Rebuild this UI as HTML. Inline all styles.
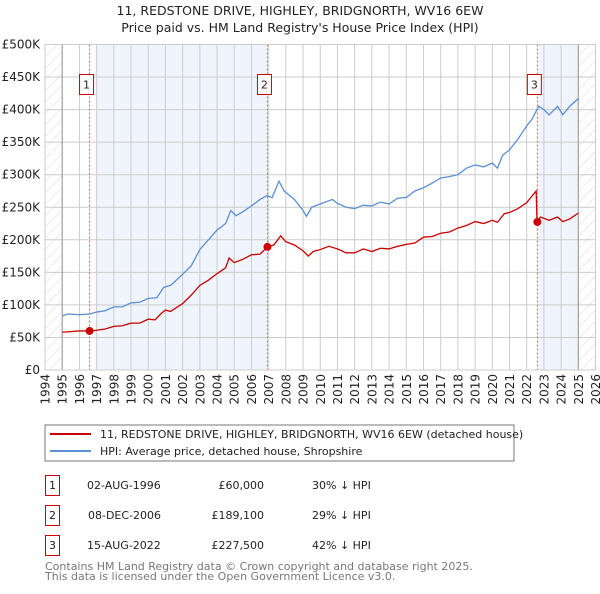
<!DOCTYPE html>
<html><head><meta charset="utf-8"><style>
body{margin:0;background:#fff;font-family:"DejaVu Sans","Liberation Sans",sans-serif;}
svg text{font-family:"DejaVu Sans","Liberation Sans",sans-serif;}
</style></head><body>
<svg id="c" width="600" height="590" xmlns="http://www.w3.org/2000/svg">
<defs><pattern id="hatch" width="8" height="8" patternUnits="userSpaceOnUse" patternTransform="rotate(45)"><line x1="0" y1="0" x2="0" y2="8" stroke="#d8d8d8" stroke-width="1"/></pattern></defs>
<text x="300" y="15" text-anchor="middle" font-size="12.5" fill="#222">11, REDSTONE DRIVE, HIGHLEY, BRIDGNORTH, WV16 6EW</text>
<text x="300" y="32" text-anchor="middle" font-size="12.5" fill="#222">Price paid vs. HM Land Registry's House Price Index (HPI)</text>
<g id="plot"></g>
<rect x="45" y="425" width="469" height="36" fill="#fff" stroke="#777"/>
<line x1="50" y1="434" x2="91" y2="434" stroke="#cc0000" stroke-width="2"/>
<text x="100" y="438" font-size="11" fill="#222">11, REDSTONE DRIVE, HIGHLEY, BRIDGNORTH, WV16 6EW (detached house)</text>
<line x1="50" y1="451" x2="91" y2="451" stroke="#5b8fd4" stroke-width="2"/>
<text x="100" y="455" font-size="11" fill="#222">HPI: Average price, detached house, Shropshire</text>
<g font-size="11" fill="#222">
<rect x="45.5" y="475.5" width="14" height="20" fill="none" stroke="#cc0000"/>
<text x="52.5" y="489" text-anchor="middle">1</text>
<text x="87" y="489">02-AUG-1996</text>
<text x="264" y="489" text-anchor="end">£60,000</text>
<text x="312" y="489">30% ↓ HPI</text>
<rect x="45.5" y="505.5" width="14" height="20" fill="none" stroke="#cc0000"/>
<text x="52.5" y="519" text-anchor="middle">2</text>
<text x="88" y="519">08-DEC-2006</text>
<text x="264" y="519" text-anchor="end">£189,100</text>
<text x="312" y="519">29% ↓ HPI</text>
<rect x="45.5" y="535.5" width="14" height="20" fill="none" stroke="#cc0000"/>
<text x="52.5" y="549" text-anchor="middle">3</text>
<text x="87" y="549">15-AUG-2022</text>
<text x="264" y="549" text-anchor="end">£227,500</text>
<text x="312" y="549">42% ↓ HPI</text>
</g>
<text x="45" y="570" font-size="11" fill="#777">Contains HM Land Registry data © Crown copyright and database right 2025.</text>
<text x="45" y="580" font-size="11" fill="#777">This data is licensed under the Open Government Licence v3.0.</text>
</svg>
<script>
const hpiYears=[1995.0,1995.3,1996,1996.6,1997,1997.5,1998,1998.5,1999,1999.5,2000,2000.5,2000.9,2001.3,2002,2002.5,2003,2003.5,2004,2004.5,2004.8,2005.1,2005.5,2006,2006.5,2006.9,2007.2,2007.6,2007.9,2008.5,2009,2009.2,2009.5,2010,2010.7,2011,2011.5,2012,2012.5,2013,2013.5,2014,2014.5,2015,2015.5,2016,2016.5,2017,2017.5,2018,2018.5,2019,2019.5,2020,2020.3,2020.6,2021,2021.5,2022,2022.3,2022.7,2023,2023.3,2023.8,2024.1,2024.5,2025];
const hpiValues=[83,86,85,86,89,91,97,97,103,104,110,111,127,130,147,160,185,200,215,225,245,237,243,252,262,268,265,290,275,262,245,236,250,255,262,256,250,248,253,252,258,255,264,265,275,280,287,295,297,300,310,315,312,318,310,330,338,355,375,385,405,400,392,405,392,405,417];
const priceYears=[1995,1996,1996.59,1997,1997.5,1998,1998.5,1999,1999.5,2000,2000.4,2000.8,2001,2001.3,2002,2002.5,2003,2003.5,2004,2004.5,2004.7,2005,2005.5,2006,2006.5,2006.93,2007.3,2007.7,2008,2008.5,2009,2009.3,2009.6,2010,2010.5,2011,2011.5,2012,2012.5,2013,2013.5,2014,2014.5,2015,2015.5,2016,2016.5,2017,2017.5,2018,2018.5,2019,2019.5,2020,2020.3,2020.7,2021,2021.5,2022,2022.55,2022.6,2022.62,2022.8,2023.3,2023.8,2024.1,2024.5,2025];
const priceValues=[58,60,60,61,63,67,68,72,72,78,77,88,92,90,102,115,130,138,148,157,172,165,170,177,178,189.1,192,206,197,192,183,175,182,185,190,186,180,180,186,182,187,186,190,193,195,204,205,210,212,218,222,228,225,230,227,240,242,248,257,275,228,227.5,235,230,235,228,232,241];
const saleYears=[1996.59,2006.93,2022.62];
const saleValues=[60,189.1,227.5];
const saleLabels=["1","2","3"];
const yTicks=[0,50,100,150,200,250,300,350,400,450,500];
const yTickLabels=["£0","£50K","£100K","£150K","£200K","£250K","£300K","£350K","£400K","£450K","£500K"];
const xTicks=[1994,1995,1996,1997,1998,1999,2000,2001,2002,2003,2004,2005,2006,2007,2008,2009,2010,2011,2012,2013,2014,2015,2016,2017,2018,2019,2020,2021,2022,2023,2024,2025,2026];

const NS="http://www.w3.org/2000/svg";
const X0=45,X1=595.5,Y0=370,Y1=44.5;
const xs=y=>X0+(y-1994)/(2026-1994)*(X1-X0);
const ys=v=>Y0-v/500*(Y0-Y1);
const g=document.getElementById('plot');
function mk(t,a){const e=document.createElementNS(NS,t);for(const k in a)e.setAttribute(k,a[k]);g.appendChild(e);return e;}
let e;
e=mk('rect',{x:xs(1997),y:Y1,width:xs(saleYears[1])-xs(1997),height:Y0-Y1,fill:'#f0f4fc'});


e=mk('rect',{x:xs(saleYears[2]),y:Y1,width:xs(2025)-xs(saleYears[2]),height:Y0-Y1,fill:'#f0f4fc'});


e=mk('rect',{x:X0,y:Y1,width:xs(1995)-X0,height:Y0-Y1,fill:'url(#hatch)'});


e=mk('rect',{x:xs(2025),y:Y1,width:X1-xs(2025),height:Y0-Y1,fill:'url(#hatch)'});


yTicks.forEach((v,i)=>{
 e=mk('line',{x1:X0,x2:X1,y1:ys(v),y2:ys(v),stroke:'#ccc','stroke-width':1});
 
 
 e=mk('text',{x:40,y:ys(v)+4,'text-anchor':'end','font-size':12,fill:'#222'});e.textContent=yTickLabels[i];
 
 
});
xTicks.forEach(t=>{
 e=mk('line',{x1:xs(t),x2:xs(t),y1:Y1,y2:Y0,stroke:'#ccc','stroke-width':1});
 
 
 e=mk('text',{x:0,y:0,'font-size':12,fill:'#222','text-anchor':'end',transform:`translate(${xs(t)+4.5},374) rotate(-90)`});e.textContent=t;
 
 
});
e=mk('line',{x1:xs(1995),x2:xs(1995),y1:Y1,y2:Y0,stroke:'#999'});


e=mk('line',{x1:xs(2025),x2:xs(2025),y1:Y1,y2:Y0,stroke:'#999'});


saleYears.forEach((y,i)=>{
 e=mk('line',{x1:xs(y),x2:xs(y),y1:Y1,y2:Y0,stroke:'#e06060','stroke-dasharray':'2,2'});
 
 
 e=mk('rect',{x:xs(y)-10,y:74.5,width:14,height:20,fill:'#fff',stroke:'#cc0000'});
 
 
 e=mk('text',{x:xs(y)-3,y:88.5,'text-anchor':'middle','font-size':11,fill:'#222'});e.textContent=saleLabels[i];
 
 
});
e=mk('polyline',{points:hpiYears.map((y,i)=>xs(y)+','+ys(hpiValues[i])).join(' '),fill:'none',stroke:'#5b8fd4','stroke-width':1.3});


e=mk('polyline',{points:priceYears.map((y,i)=>xs(y)+','+ys(priceValues[i])).join(' '),fill:'none',stroke:'#cc0000','stroke-width':1.3});


saleYears.forEach((y,i)=>{
 e=mk('circle',{cx:xs(y),cy:ys(saleValues[i]),r:4,fill:'#cc0000'});
 
 
});
e=mk('rect',{x:X0,y:Y1,width:X1-X0,height:Y0-Y1,fill:'none',stroke:'#ccc'});


</script>
</body></html>
